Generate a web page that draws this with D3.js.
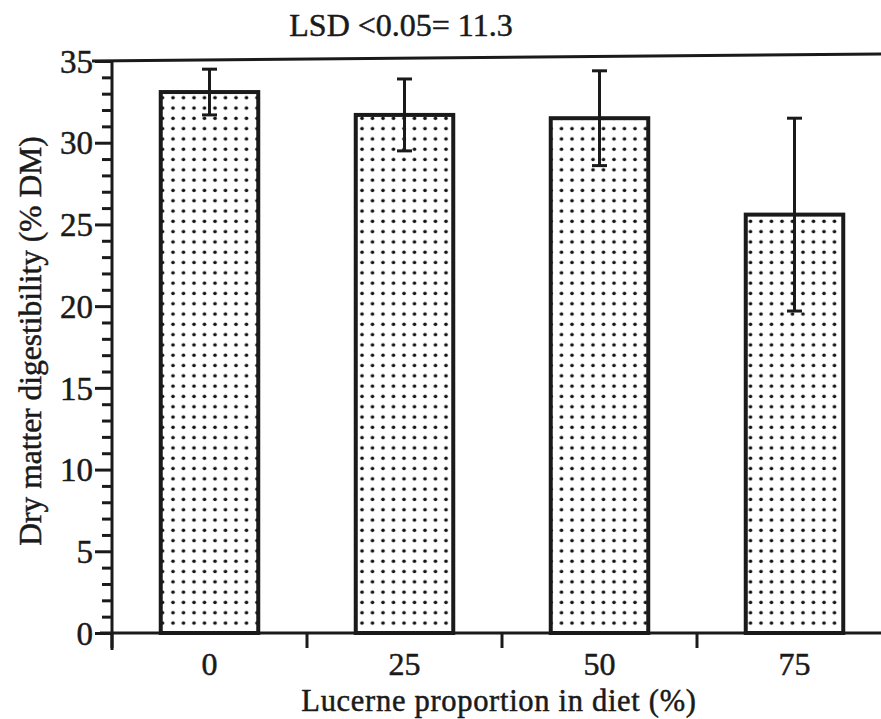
<!DOCTYPE html>
<html lang="en">
<head>
<meta charset="UTF-8">
<title>Dry matter digestibility</title>
<script src="https://d3js.org/d3.v7.min.js"></script>
<style>
  body { margin: 0; background: #fff; }
</style>
</head>
<body>
<div id="chart"></div>
<script>
// data
const categories = ["0", "25", "50", "75"];
const means = [33.1, 31.7, 31.5, 25.6];
const errs = [1.4, 2.2, 2.9, 5.9];
const yTicks = [0, 5, 10, 15, 20, 25, 30, 35];

const W = 881, H = 719;
const serif = "'Liberation Serif', 'Times New Roman', Times, 'DejaVu Serif', serif";
const ink = "#1a1a1a";

const svg = d3.select("#chart").append("svg")
    .attr("width", W).attr("height", H)
    .style("font-family", serif);

const axisX = 112, baseY = 633;

const y = d3.scaleLinear().domain([0, 35]).range([baseY, 61]);
const x = d3.scaleBand().domain(categories)
    .range([axisX, 892])
    .paddingInner(0.5).paddingOuter(0.25);
const gap = (x.step() - x.bandwidth()) / 2;

// scanned-print look: slightly heavier text
function inked(sel, size) {
  sel.attr("fill", ink)
     .attr("stroke", ink)
     .attr("stroke-width", 0.5)
     .style("font-family", serif)
     .style("font-size", size + "px");
}

// dotted fill
const pat = svg.append("defs").append("pattern")
    .attr("id", "dots").attr("patternUnits", "userSpaceOnUse")
    .attr("width", 10.5).attr("height", 10.3);
pat.append("rect").attr("width", 10.5).attr("height", 10.3).attr("fill", "#fff");
pat.append("circle").attr("cx", 5).attr("cy", 5).attr("r", 1.8).attr("fill", "#111");

// bars
svg.selectAll("rect.bar")
  .data(means)
  .enter()
  .append("rect")
    .attr("class", "bar")
    .attr("x", (d, i) => x(categories[i]))
    .attr("y", d => y(d))
    .attr("width", x.bandwidth())
    .attr("height", d => baseY - y(d))
    .attr("fill", "url(#dots)")
    .attr("stroke", ink)
    .attr("stroke-width", 4);

// error bars
const eb = svg.selectAll("g.err")
  .data(means)
  .enter()
  .append("g")
    .attr("class", "err")
    .attr("stroke", ink)
    .attr("stroke-width", 3);
eb.append("line")
    .attr("x1", (d, i) => x(categories[i]) + x.bandwidth() / 2)
    .attr("x2", (d, i) => x(categories[i]) + x.bandwidth() / 2)
    .attr("y1", (d, i) => y(d + errs[i]))
    .attr("y2", (d, i) => y(d - errs[i]));
[1, -1].forEach(s => {
  eb.append("line")
    .attr("x1", (d, i) => x(categories[i]) + x.bandwidth() / 2 - 7.5)
    .attr("x2", (d, i) => x(categories[i]) + x.bandwidth() / 2 + 7.5)
    .attr("y1", (d, i) => y(d + s * errs[i]))
    .attr("y2", (d, i) => y(d + s * errs[i]));
});

// y axis with minor ticks
const minor = d3.range(0, 36).filter(v => v % 5 !== 0);
svg.append("g")
    .attr("transform", "translate(" + axisX + ",0)")
    .call(d3.axisLeft(y).tickValues(minor).tickSize(10).tickFormat(""))
    .call(g => g.select(".domain").remove())
    .selectAll("line").attr("stroke", ink).attr("stroke-width", 3);

const yAxis = svg.append("g")
    .attr("transform", "translate(" + axisX + ",0)")
    .call(d3.axisLeft(y).tickValues(yTicks).tickSize(17).tickPadding(2));
yAxis.attr("font-family", null);
yAxis.select(".domain").remove();
yAxis.selectAll("line").attr("stroke", ink).attr("stroke-width", 3);
yAxis.selectAll("text")
    .call(inked, 33)
    .attr("dy", "0.34em");

// vertical axis line (runs a bit below zero)
svg.append("line")
    .attr("x1", axisX).attr("x2", axisX)
    .attr("y1", y(35)).attr("y2", baseY + 17)
    .attr("stroke", ink).attr("stroke-width", 3);

// top frame line
svg.append("line")
    .attr("x1", axisX - 20).attr("x2", W)
    .attr("y1", y(35)).attr("y2", y(35) - 7)
    .attr("stroke", ink).attr("stroke-width", 3);

// x axis
svg.append("line")
    .attr("x1", axisX - 12).attr("x2", W)
    .attr("y1", baseY).attr("y2", baseY)
    .attr("stroke", ink).attr("stroke-width", 3);

svg.selectAll("line.xtick")
  .data(categories)
  .enter()
  .append("line")
    .attr("class", "xtick")
    .attr("x1", d => x(d) - gap).attr("x2", d => x(d) - gap)
    .attr("y1", baseY).attr("y2", baseY + 15)
    .attr("stroke", ink).attr("stroke-width", 3);

svg.selectAll("text.xlab")
  .data(categories)
  .enter()
  .append("text")
    .attr("class", "xlab")
    .attr("x", d => x(d) + x.bandwidth() / 2)
    .attr("y", 675)
    .attr("text-anchor", "middle")
    .call(inked, 32)
    .text(d => d);

// titles
svg.append("text")
    .attr("x", 499).attr("y", 711)
    .attr("text-anchor", "middle")
    .call(inked, 30.5)
    .style("letter-spacing", "0.7px")
    .text("Lucerne proportion in diet (%)");

svg.append("text")
    .attr("transform", "translate(41,341) rotate(-90)")
    .attr("text-anchor", "middle")
    .call(inked, 31.5)
    .text("Dry matter digestibility (% DM)");

svg.append("text")
    .attr("x", 401).attr("y", 36)
    .attr("text-anchor", "middle")
    .call(inked, 32)
    .text("LSD <0.05= 11.3");
</script>
</body>
</html>
